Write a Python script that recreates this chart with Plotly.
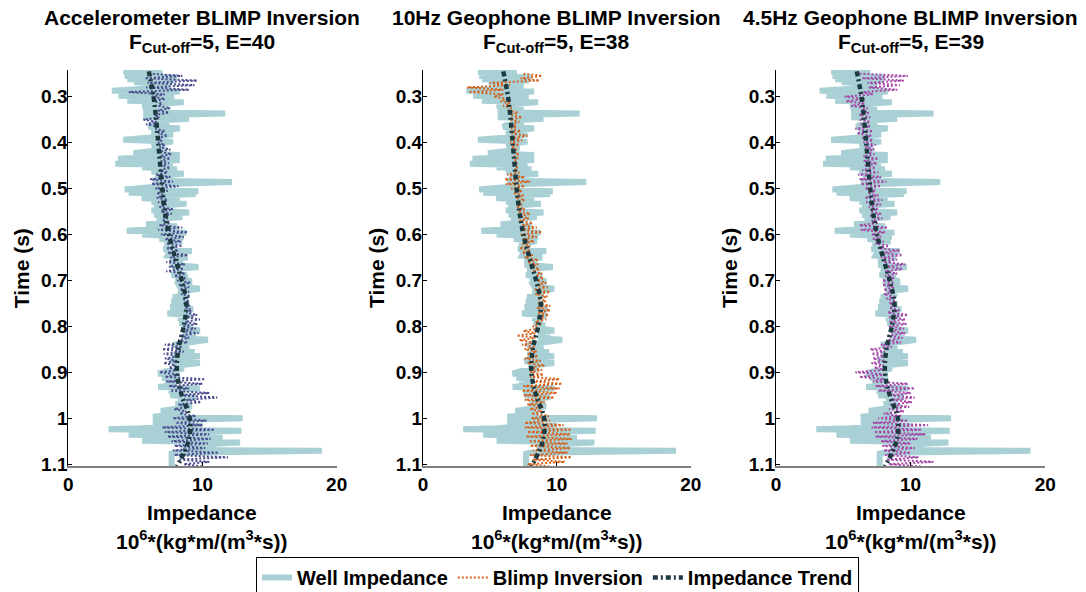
import numpy as np
import plotly.graph_objects as go

# ---------------- data ----------------
well_time = [0.245, 0.246, 0.248, 0.252, 0.255, 0.258, 0.262, 0.265, 0.268, 0.272,
             0.278, 0.284, 0.287, 0.289, 0.293, 0.298, 0.302, 0.306, 0.309, 0.312,
             0.316, 0.320, 0.324, 0.330, 0.334, 0.337, 0.340, 0.345, 0.348, 0.352,
             0.358, 0.362, 0.366, 0.369, 0.374, 0.378, 0.382, 0.388, 0.394, 0.398,
             0.403, 0.408, 0.412, 0.418, 0.423, 0.427, 0.432, 0.435, 0.438, 0.442,
             0.446, 0.449, 0.454, 0.458, 0.463, 0.468, 0.473, 0.478, 0.483, 0.486,
             0.490, 0.496, 0.502, 0.506, 0.509, 0.512, 0.516, 0.521, 0.524, 0.529,
             0.533, 0.538, 0.544, 0.548, 0.552, 0.557, 0.562, 0.567, 0.572, 0.578,
             0.582, 0.588, 0.592, 0.596, 0.600, 0.605, 0.610, 0.615, 0.620, 0.626,
             0.632, 0.636, 0.641, 0.646, 0.650, 0.655, 0.660, 0.666, 0.671, 0.676,
             0.682, 0.688, 0.692, 0.697, 0.702, 0.708, 0.713, 0.718, 0.724, 0.730,
             0.736, 0.740, 0.746, 0.752, 0.758, 0.762, 0.767, 0.772, 0.776, 0.782,
             0.788, 0.793, 0.798, 0.804, 0.809, 0.814, 0.820, 0.826, 0.829, 0.834,
             0.840, 0.845, 0.850, 0.856, 0.861, 0.865, 0.870, 0.876, 0.880, 0.886,
             0.892, 0.898, 0.903, 0.906, 0.912, 0.917, 0.922, 0.928, 0.932, 0.935,
             0.940, 0.945, 0.950, 0.954, 0.959, 0.964, 0.969, 0.974, 0.979, 0.984,
             0.987, 0.993, 0.997, 1.000, 1.004, 1.008, 1.012, 1.017, 1.022, 1.024,
             1.027, 1.031, 1.036, 1.040, 1.045, 1.049, 1.053, 1.058, 1.062, 1.065,
             1.069, 1.071, 1.075, 1.077, 1.105]
well_imp = [6.5, 4.1, 7.0, 6.2, 4.2, 8.1, 4.4, 7.9, 4.9, 6.5,
            7.5, 5.0, 3.25, 8.3, 6.0, 3.75, 7.9, 6.2, 4.4, 8.6,
            6.5, 5.5, 7.5, 6.2, 5.6, 11.7, 7.0, 5.6, 9.0, 6.5,
            7.5, 6.2, 6.0, 8.3, 6.5, 6.2, 7.8, 6.6, 4.1, 7.8,
            6.5, 6.3, 7.2, 6.4, 4.85, 8.3, 6.0, 3.7, 8.3, 5.0,
            3.5, 7.8, 5.5, 8.1, 6.2, 8.6, 6.5, 7.2, 6.3, 12.2,
            7.5, 6.5, 4.2, 9.7, 4.5, 9.5, 6.0, 5.5, 8.3, 6.2,
            8.8, 6.4, 7.5, 6.2, 9.0, 6.4, 8.5, 6.6, 7.5, 5.8,
            8.1, 6.5, 4.36, 8.8, 5.5, 8.6, 6.8, 8.5, 7.2, 8.0,
            7.1, 9.2, 7.5, 7.4, 8.9, 7.6, 8.5, 7.6, 9.7, 7.8,
            8.8, 7.7, 8.9, 8.0, 9.2, 8.2, 8.3, 9.8, 8.2, 9.0,
            7.8, 8.8, 7.7, 9.0, 7.6, 9.3, 7.9, 7.4, 9.2, 8.2,
            8.9, 8.3, 9.1, 8.5, 9.8, 8.6, 9.5, 8.6, 10.4, 8.8,
            7.8, 9.0, 8.0, 9.4, 7.8, 9.8, 8.0, 7.6, 9.8, 7.9,
            8.6, 7.2, 6.7, 8.3, 7.0, 8.2, 7.2, 8.0, 6.7, 9.8,
            7.5, 8.5, 7.6, 9.5, 8.2, 9.0, 8.0, 9.2, 7.6, 6.9,
            8.6, 7.8, 6.3, 13.0, 8.5, 6.3, 10.0, 8.0, 5.5, 3.0,
            12.9, 8.0, 4.5, 11.5, 8.5, 5.5, 12.8, 9.0, 8.5, 11.0,
            8.8, 18.9, 8.0, 7.7, 7.7]

trend_time = [0.245, 0.30, 0.35, 0.40, 0.45, 0.50, 0.55, 0.60, 0.65, 0.70,
              0.75, 0.80, 0.85, 0.90, 0.95, 1.00, 1.05, 1.105]
trend_imp = [6.0, 6.35, 6.55, 6.7, 6.85, 7.0, 7.2, 7.5, 7.95, 8.45,
             8.8, 8.6, 8.2, 8.1, 8.45, 9.05, 8.95, 8.1]

blimp_time = np.round(np.arange(0.25, 1.1001, 0.01), 3)

acc_left = [6.0, 5.7, 5.9, 5.8, 4.5, 6.2, 6.4, 6.7, 6.7, 6.4,
            5.6, 5.8, 6.5, 6.7, 6.6, 6.7, 6.8, 6.8, 6.8, 6.9,
            6.9, 6.8, 6.5, 6.1, 6.2, 6.5, 6.6, 6.6, 6.7, 6.8,
            6.9, 7.0, 7.0, 6.8, 6.7, 6.9, 7.2, 7.3, 7.3, 7.4,
            7.6, 7.3, 7.5, 7.3, 7.9, 8.1, 8.2, 8.3, 8.4, 8.5,
            8.6, 8.8, 8.8, 8.8, 8.7, 8.5, 8.4, 8.3, 8.2, 7.2,
            7.0, 7.1, 7.2, 7.1, 7.5, 6.8, 7.2, 7.3, 7.5, 7.6,
            8.3, 8.8, 8.2, 7.9, 8.3, 7.8, 8.0, 7.0, 7.2, 7.4,
            7.7, 7.9, 7.8, 7.9, 8.2, 8.6]
acc_right = [8.5, 9.6, 9.4, 9.0, 7.2, 7.2, 7.0, 7.6, 7.5, 6.8,
             6.6, 6.7, 7.2, 7.4, 7.0, 7.2, 7.6, 7.7, 7.6, 7.5,
             7.6, 7.4, 7.6, 7.8, 8.2, 7.4, 7.2, 7.4, 7.3, 7.8,
             7.7, 7.4, 7.6, 8.5, 8.9, 8.6, 8.4, 8.5, 8.2, 8.9,
             8.2, 8.7, 8.6, 8.7, 8.8, 9.1, 9.0, 9.0, 9.1, 9.0,
             9.0, 9.2, 9.6, 9.8, 9.6, 9.5, 9.7, 9.0, 8.9, 8.5,
             8.6, 8.2, 8.1, 8.0, 8.2, 8.3, 10.2, 10.0, 9.0, 10.5,
             11.1, 9.9, 9.0, 8.8, 9.5, 10.3, 10.0, 10.9, 10.5, 10.6,
             10.4, 10.2, 11.2, 11.9, 10.5, 10.0]

geo10_left = [7.5, 7.3, 5.0, 3.3, 3.4, 5.3, 5.8, 6.0, 6.4, 6.5,
              6.5, 6.6, 6.6, 6.6, 6.7, 6.5, 6.6, 6.6, 6.8, 6.8,
              6.8, 6.8, 6.3, 6.1, 6.2, 6.6, 6.8, 6.9, 7.0, 7.0,
              7.1, 7.2, 7.2, 7.4, 7.3, 7.3, 7.4, 7.4, 7.2, 7.4,
              7.6, 7.8, 8.0, 8.2, 8.4, 8.5, 8.5, 8.3, 8.4, 8.6,
              8.6, 8.5, 8.6, 8.5, 8.4, 8.2, 7.5, 7.0, 7.2, 7.4,
              7.6, 7.8, 7.6, 7.8, 7.9, 8.0, 8.0, 8.2, 7.5, 7.4,
              7.5, 7.6, 7.8, 8.0, 8.1, 8.1, 7.6, 7.6, 7.8, 7.7,
              7.9, 8.0, 8.2, 8.0, 8.2, 7.8]
geo10_right = [8.9, 8.7, 6.5, 6.0, 6.0, 6.3, 6.5, 6.6, 7.1, 7.4,
               7.2, 7.0, 7.3, 7.8, 7.4, 7.2, 7.0, 7.2, 7.1, 7.0,
               7.1, 7.2, 7.6, 8.0, 7.6, 7.4, 7.5, 7.6, 7.4, 7.6,
               8.0, 7.9, 8.2, 8.5, 8.9, 8.5, 8.3, 8.0, 8.0, 8.2,
               8.6, 8.6, 8.7, 8.9, 9.0, 9.2, 9.3, 9.5, 9.3, 9.2,
               9.5, 9.5, 9.4, 9.2, 8.9, 8.7, 8.4, 8.4, 8.3, 8.4,
               8.5, 8.6, 8.8, 9.1, 8.9, 9.0, 10.2, 10.4, 10.2, 10.0,
               9.8, 9.1, 9.0, 8.9, 9.4, 9.5, 10.5, 11.1, 11.0, 11.1,
               10.8, 11.0, 10.8, 11.1, 10.6, 9.5]

geo45_left = [6.2, 6.4, 6.8, 6.9, 6.5, 5.1, 5.2, 5.6, 6.3, 6.2,
              6.2, 6.3, 5.9, 6.0, 6.4, 6.5, 6.6, 6.6, 6.5, 6.5,
              6.6, 6.4, 6.1, 6.2, 6.3, 6.6, 6.8, 6.6, 6.7, 6.9,
              7.0, 7.0, 7.1, 6.2, 6.3, 7.1, 7.2, 7.4, 7.6, 7.7,
              7.8, 8.0, 8.1, 8.1, 8.1, 7.9, 7.9, 8.0, 8.0, 8.2,
              8.4, 8.4, 8.3, 8.4, 8.4, 8.4, 8.4, 8.3, 8.3, 7.8,
              7.0, 7.1, 7.2, 7.1, 7.3, 5.9, 6.2, 7.2, 7.4, 7.6,
              8.5, 8.6, 8.5, 8.4, 8.0, 7.6, 7.2, 7.1, 7.3, 7.4,
              7.8, 7.9, 8.0, 8.1, 8.2, 8.4]
geo45_right = [9.8, 9.5, 9.2, 9.0, 7.2, 6.6, 6.6, 6.8, 6.9, 7.0,
               7.0, 7.0, 7.2, 7.1, 7.2, 7.4, 7.3, 7.3, 7.6, 7.5,
               7.4, 7.6, 7.8, 8.2, 7.8, 7.4, 7.6, 7.9, 7.8, 7.6,
               7.8, 7.9, 7.6, 8.3, 8.1, 7.8, 8.0, 8.4, 9.2, 9.4,
               9.0, 9.6, 9.4, 9.0, 8.8, 8.8, 8.8, 8.7, 8.8, 8.9,
               9.0, 9.2, 9.8, 9.6, 9.7, 9.5, 9.6, 9.4, 9.3, 8.6,
               8.1, 8.0, 8.1, 8.0, 8.0, 8.2, 8.1, 9.8, 10.3, 10.0,
               10.3, 10.1, 9.9, 9.5, 9.3, 9.8, 11.3, 10.8, 11.1, 10.5,
               10.0, 10.3, 10.0, 10.6, 11.7, 10.8]

panel_names = ["Accelerometer BLIMP Inversion", "10Hz Geophone BLIMP Inversion",
               "4.5Hz Geophone BLIMP Inversion"]
panel_e = [40, 38, 39]
x_ticks = [0, 10, 20]
y_ticks = [0.3, 0.4, 0.5, 0.6, 0.7, 0.8, 0.9, 1.0, 1.1]
y_tick_text = ["0.3", "0.4", "0.5", "0.6", "0.7", "0.8", "0.9", "1", "1.1"]

# ---------------- style ----------------
FONT = "Liberation Sans, Arial, Helvetica, sans-serif"
WELL_C = "#a9d1d5"
TREND_C = "#1d3a40"
BLIMP_C = ["#4a4a8e", "#d2621e", "#a445a8"]
W, H = 1086, 592
x_domains = [[0.0629, 0.3100], [0.3895, 0.6360], [0.7145, 0.9625]]
y_domain = [0.2128, 0.8818]
TXT = 21
TICK = 19


def zigzag(t, left, right):
    xs, ys = [], []
    for ti, l, r in zip(t, left, right):
        xs += [l, r]
        ys += [ti, ti + 0.005]
    return xs, ys


blimps = [(acc_left, acc_right), (geo10_left, geo10_right), (geo45_left, geo45_right)]

fig = go.Figure()
for i in range(3):
    xa = "x" if i == 0 else f"x{i+1}"
    ya = "y" if i == 0 else f"y{i+1}"
    fig.add_trace(go.Scatter(x=well_imp, y=well_time, mode="lines", xaxis=xa, yaxis=ya,
                             line=dict(color=WELL_C, width=6), name="Well Impedance",
                             showlegend=(i == 0), legendrank=1))
    bx, by = zigzag(blimp_time, *blimps[i])
    fig.add_trace(go.Scatter(x=bx, y=by, mode="lines", xaxis=xa, yaxis=ya,
                             line=dict(color=BLIMP_C[i], width=2, dash="2px,2px"),
                             name="Blimp Inversion", showlegend=(i == 1), legendrank=2))
    fig.add_trace(go.Scatter(x=trend_imp, y=trend_time, mode="lines", xaxis=xa, yaxis=ya,
                             line=dict(color=TREND_C, width=4.5, dash="5px,3px,2px,3px",
                                       shape="spline"),
                             name="Impedance Trend", showlegend=(i == 0), legendrank=3))

axis_font = dict(family=FONT, size=TICK, color="black", weight="bold")
annotations = []
for i in range(3):
    xk = "xaxis" if i == 0 else f"xaxis{i+1}"
    yk = "yaxis" if i == 0 else f"yaxis{i+1}"
    fig.layout[xk] = dict(domain=x_domains[i], range=[0, 20], tickvals=x_ticks,
                          ticks="inside", ticklen=4, tickcolor="black",
                          showline=True, linecolor="#808080", linewidth=2,
                          showgrid=False, zeroline=False, tickfont=axis_font,
                          anchor="y" if i == 0 else f"y{i+1}", fixedrange=True)
    fig.layout[yk] = dict(domain=y_domain, range=[1.104, 0.242], tickvals=y_ticks,
                          ticktext=y_tick_text, ticks="inside", ticklen=4,
                          tickcolor="black", showline=True, linecolor="black",
                          linewidth=1, showgrid=False, zeroline=False,
                          tickfont=axis_font, ticklabelstandoff=-4,
                          anchor="x" if i == 0 else f"x{i+1}", fixedrange=True)
    xc = (x_domains[i][0] + x_domains[i][1]) / 2
    tf = dict(family=FONT, size=TXT, color="black")
    annotations.append(dict(x=xc, y=1 - 17 / H, xref="paper", yref="paper",
                            text=f"<b>{panel_names[i]}</b>", showarrow=False, font=tf,
                            xanchor="center", yanchor="middle"))
    annotations.append(dict(x=xc, y=1 - 28 / H, xref="paper", yref="paper",
                            text=f"<b>F<sub>Cut-off</sub>=5, E={panel_e[i]}</b>",
                            showarrow=False, font=tf, xanchor="center", yanchor="top"))
    annotations.append(dict(x=xc, y=1 - 512 / H, xref="paper", yref="paper",
                            text="<b>Impedance</b>", showarrow=False, font=tf,
                            xanchor="center", yanchor="middle"))
    annotations.append(dict(x=xc, y=1 - 540 / H, xref="paper", yref="paper",
                            text="<b>10<sup>6</sup>*(kg*m/(m<sup>3</sup>*s))</b>",
                            showarrow=False, font=tf, xanchor="center", yanchor="middle"))
    annotations.append(dict(x=(x_domains[i][0] * W - 46) / W, y=1 - 268 / H,
                            xref="paper", yref="paper", text="<b>Time (s)</b>",
                            showarrow=False, textangle=-90, font=tf,
                            xanchor="center", yanchor="middle"))

fig.update_layout(
    width=W, height=H,
    margin=dict(l=0, r=0, t=0, b=0, autoexpand=False),
    paper_bgcolor="white", plot_bgcolor="white",
    font=dict(family=FONT, color="black"),
    annotations=annotations,
    legend=dict(orientation="h", x=557.5 / W, xanchor="center", y=1 - 557 / H,
                yanchor="top", bgcolor="white", bordercolor="black", borderwidth=1,
                font=dict(family=FONT, size=20, color="black", weight="bold"),
                itemwidth=30, tracegroupgap=0),
)

fig.write_html("out.html", config={"displayModeBar": False},
               post_script="document.body.style.margin='0px';")
